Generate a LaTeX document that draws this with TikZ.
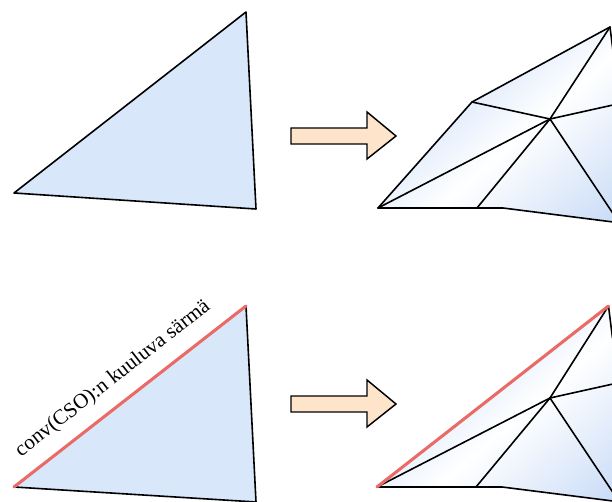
\documentclass[tikz,border=0pt]{standalone}
\usepackage{fontspec}
\setmainfont{Liberation Serif}
\definecolor{triblue}{HTML}{D8E7FA}
\definecolor{tintL}{HTML}{C6DAF8}
\definecolor{tintR}{HTML}{CADCF7}
\definecolor{arrowfill}{HTML}{FFE4CC}
\definecolor{edgered}{HTML}{EA6B66}
\tikzset{
  edge/.style={draw=black,line width=1.2pt,line join=round,line cap=round},
  flat/.style={edge,fill=triblue},
  mesh/.style={left color=tintL,right color=tintR,middle color=white,shading angle=41},
  bigarrow/.style={edge,fill=arrowfill,line width=1.1pt,line join=miter},
  hull/.style={draw=edgered,line width=2.3pt,line cap=round}
}
\begin{document}
\begin{tikzpicture}[x=0.75pt,y=-0.75pt]
\useasboundingbox (0,0) rectangle (612,502);
\clip (0,0) rectangle (612,502);
% top left triangle
\coordinate (a1) at (14,193);
\coordinate (a2) at (246,12);
\coordinate (a3) at (256,209);
\draw[flat] (a1) -- (a2) -- (a3) -- cycle;
% top arrow
\draw[bigarrow] (291,128) -- (367,128) -- (367,112) -- (396,136) -- (367,159) -- (367,144) -- (291,144) -- cycle;
% top right mesh
\coordinate (bL) at (378,208);
\coordinate (bA) at (472,102);
\coordinate (bT) at (610,27);
\coordinate (bR1) at (614,59);
\coordinate (bC) at (550,119);
\coordinate (bB) at (477,208);
\coordinate (bK) at (503,208);
\coordinate (bE) at (680,230.5);
\coordinate (bX1) at (640,99);
\coordinate (bX2) at (640,254);
\fill[mesh] (bL) -- (bA) -- (bT) -- (bR1) -- (680,59) -- (bE) -- (bK) -- cycle;
\draw[edge] (bL) -- (bA) -- (bT) -- (bR1);
\draw[edge] (bL) -- (bK) -- (bE);
\draw[edge] (bA) -- (bC);
\draw[edge] (bT) -- (bC);
\draw[edge] (bL) -- (bC);
\draw[edge] (bB) -- (bC);
\draw[edge] (bC) -- (bX1);
\draw[edge] (bC) -- (bX2);
% bottom left triangle
\coordinate (c1) at (14,487);
\coordinate (c2) at (246,306);
\coordinate (c3) at (256,502);
\draw[flat] (c1) -- (c2) -- (c3) -- cycle;
\draw[hull] (c1) -- (c2);
\node[rotate=38,font=\fontsize{15.8pt}{18pt}\selectfont,inner sep=0pt] (lbl) at (113,379) {conv(CSO):n kuuluva särmä};
% bottom arrow
\draw[bigarrow] (291,396) -- (367,396) -- (367,380) -- (396,404) -- (367,427) -- (367,412) -- (291,412) -- cycle;
% bottom right mesh
\coordinate (dL) at (377,487);
\coordinate (dT) at (608.5,306);
\coordinate (dR1) at (612.5,338);
\coordinate (dC) at (550,398);
\coordinate (dB) at (476,487);
\coordinate (dK) at (502,487);
\coordinate (dE) at (680,509.5);
\coordinate (dX1) at (640,378);
\coordinate (dX2) at (640,533);
\fill[mesh] (dL) -- (dT) -- (dR1) -- (680,338) -- (dE) -- (dK) -- cycle;
\draw[edge] (dT) -- (dR1);
\draw[edge] (dL) -- (dK) -- (dE);
\draw[edge] (dT) -- (dC);
\draw[edge] (dL) -- (dC);
\draw[edge] (dB) -- (dC);
\draw[edge] (dC) -- (dX1);
\draw[edge] (dC) -- (dX2);
\draw[hull] (dL) -- (dT);
\end{tikzpicture}
\end{document}
